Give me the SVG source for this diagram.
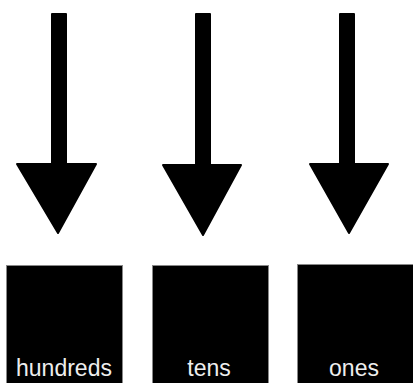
<svg xmlns="http://www.w3.org/2000/svg" width="413" height="383" viewBox="0 0 413 383">
<style>
.arrow{fill:#000;stroke:#000;stroke-width:2;stroke-linejoin:round}
.box{fill:#000;stroke:#888;stroke-width:1}
.label{font-family:"Liberation Sans",Arial,sans-serif;font-size:23px;fill:#eee;text-anchor:middle}
</style>
<rect width="413" height="383" fill="#fff"/>
<g id="connectors">
<path class="arrow" d="M52 14 H66 V164 H96 L58 233 L17 164 H52 Z"/>
<path class="arrow" d="M196 14 H210 V165 H241 L203 235 L163 165 H196 Z"/>
<path class="arrow" d="M340 14 H354 V164 H388 L349 233 L310 164 H340 Z"/>
</g>
<g id="hundreds">
<rect class="box" x="6.5" y="265.5" width="116" height="120"/>
<text class="label" x="64" y="376">hundreds</text>
</g>
<g id="tens">
<rect class="box" x="152.5" y="265.5" width="116" height="120"/>
<text class="label" x="209" y="376">tens</text>
</g>
<g id="ones">
<rect class="box" x="297.5" y="264.5" width="118" height="120"/>
<text class="label" x="354" y="376">ones</text>
</g>
</svg>
